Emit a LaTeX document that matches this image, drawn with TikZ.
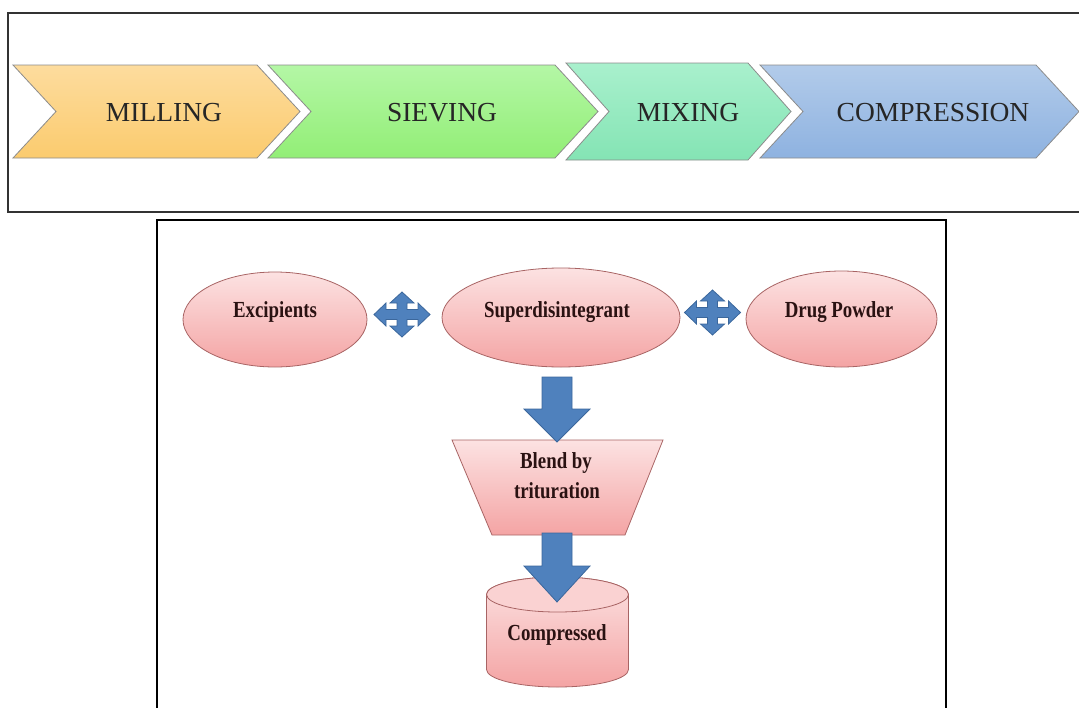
\documentclass[tikz,border=0pt]{standalone}
\usepackage{fontspec}
\setmainfont{Liberation Serif}
\newfontfamily\cbfont[FakeStretch=0.82]{Liberation Serif}
\usetikzlibrary{shapes.geometric}
\definecolor{milA}{HTML}{FDDC9E}
\definecolor{milB}{HTML}{FBCB6E}
\definecolor{sieA}{HTML}{B4F7A6}
\definecolor{sieB}{HTML}{92EE76}
\definecolor{mixA}{HTML}{A9F0CD}
\definecolor{mixB}{HTML}{84E4B4}
\definecolor{comA}{HTML}{B2CBEA}
\definecolor{comB}{HTML}{8EB2E0}
\definecolor{pinkA}{HTML}{FCE2E2}
\definecolor{pinkB}{HTML}{F4A4A4}
\definecolor{pinkedge}{HTML}{A86464}
\definecolor{abl}{HTML}{4F81BD}
\definecolor{abledge}{HTML}{3B679C}
\definecolor{chedge}{HTML}{8C8C8C}
\definecolor{btxt}{HTML}{2A1212}
\newcommand\bdarrow[4]{%
  \draw[barrow] (#1-15,#2) -- (#1+15,#2) -- (#1+15,#3) -- (#1+33,#3) -- (#1,#4)
    -- (#1-33,#3) -- (#1-15,#3) -- cycle;}
\newcommand\quadarrow[2]{%
  \draw[barrow, shift={(#1,#2)}] (28,0) -- (16,-11.5) -- (16,-5) -- (5,-5) -- (5,-11.5)
    -- (12,-11.5) -- (0,-22.5) -- (-12,-11.5) -- (-5,-11.5) -- (-5,-5) -- (-16,-5)
    -- (-16,-11.5) -- (-28,0) -- (-16,11.5) -- (-16,5) -- (-5,5) -- (-5,11.5)
    -- (-12,11.5) -- (0,22.5) -- (12,11.5) -- (5,11.5) -- (5,5) -- (16,5)
    -- (16,11.5) -- cycle;}
\newcommand\chev[6]{% L, R, top, bottom, colA, colB
  \draw[chevron, top color=#5, bottom color=#6] (#1,#3) -- (#2,#3) -- (#2+43,{(#3+#4)/2})
    -- (#2,#4) -- (#1,#4) -- (#1+43,{(#3+#4)/2}) -- cycle;}
\tikzset{
  chevron/.style={draw=chedge, line width=0.8pt, line join=miter},
  chevtext/.style={anchor=base, inner sep=0pt, text=black!85, font=\fontsize{27.5}{30}\selectfont},
  blob/.style={ellipse, draw=pinkedge, line width=0.8pt, top color=pinkA, bottom color=pinkB, inner sep=0pt},
  pinkshape/.style={draw=pinkedge, line width=0.8pt, top color=pinkA, bottom color=pinkB},
  btext/.style={anchor=base, inner sep=0pt, text=btxt, font=\cbfont\bfseries\fontsize{23}{28}\selectfont},
  barrow/.style={fill=abl, draw=abledge, line width=0.8pt, line join=miter},
  frameA/.style={draw=black!80, line width=1.3pt},
  frameB/.style={draw=black, line width=2pt}
}
\begin{document}
\begin{tikzpicture}[x=1pt, y=-1pt]
\useasboundingbox (0,0) rectangle (1079,707);
% top frame
\draw[frameA] (1080,13) -- (8,13) -- (8,212) -- (1080,212);
% chevrons
\chev{13}{257}{65}{158}{milA}{milB}
\chev{268}{555}{65}{158}{sieA}{sieB}
\chev{566}{748}{63}{160}{mixA}{mixB}
\chev{760}{1036}{65}{158}{comA}{comB}
\node[chevtext] (mil) at (164,121) {MILLING};
\node[chevtext] (sie) at (442,121) {SIEVING};
\node[chevtext] (mix) at (688,121) {MIXING};
\node[chevtext] (com) at (933,121) {COMPRESSION};
% bottom frame
\draw[frameB] (157,708) -- (157,220) -- (946,220) -- (946,708);
% ellipses
\node[blob, minimum width=184pt, minimum height=95pt] (exc) at (275,319.5) {};
\node[blob, minimum width=238pt, minimum height=99pt] (sup) at (561,317.5) {};
\node[blob, minimum width=191pt, minimum height=96pt] (drg) at (841.5,319) {};
\node[btext] (excT) at (275,317) {Excipients};
\node[btext] (supT) at (557,317) {Superdisintegrant};
\node[btext] (drgT) at (839,317) {Drug Powder};
% quad arrows
\quadarrow{402}{314.5}
\quadarrow{712.5}{312.5}
% trapezoid
\draw[pinkshape] (452,440) -- (663,440) -- (625,535) -- (492,535) -- cycle;
\node[btext] (bl1) at (556,468) {Blend by};
\node[btext] (bl2) at (557,498) {trituration};
% cylinder
\draw[pinkshape] (486.5,594.5) -- (486.5,669.5)
  arc[start angle=180, end angle=0, x radius=71, y radius=17.5]
  -- (628.5,594.5) arc[start angle=0, end angle=-180, x radius=71, y radius=17.5] -- cycle;
\draw[draw=pinkedge, line width=0.8pt, fill=pinkA!75!pinkB] (557.5,594.5) ellipse [x radius=71, y radius=17.5];
\node[btext] (cmpT) at (557,640) {Compressed};
% down arrows
\bdarrow{557}{377}{409}{442}
\bdarrow{557}{533}{566}{602}
\end{tikzpicture}
\end{document}
